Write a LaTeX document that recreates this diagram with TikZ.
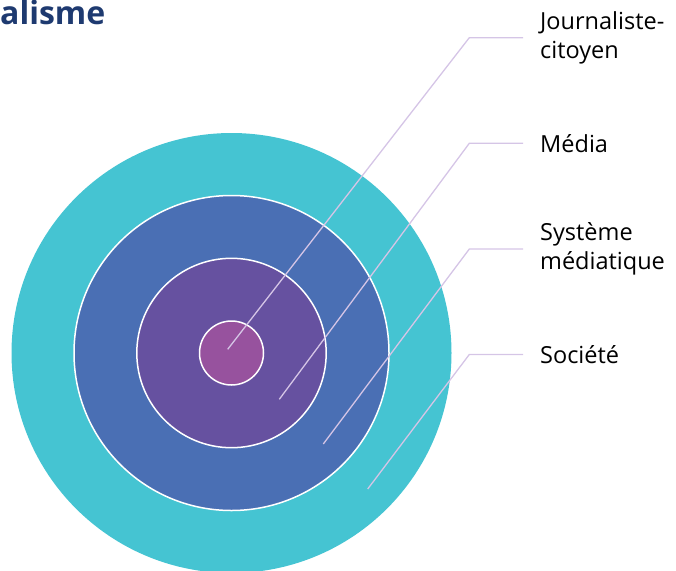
\documentclass[tikz,border=0pt]{standalone}
\usepackage{fontspec}
\setmainfont{Open Sans}
\definecolor{cteal}{HTML}{45C4D2}
\definecolor{cblue}{HTML}{4A6FB4}
\definecolor{cpurple}{HTML}{6651A0}
\definecolor{cmag}{HTML}{97529E}
\definecolor{ctitle}{HTML}{1E3A70}
\definecolor{cline}{HTML}{D5C5E6}
\tikzset{
  ring/.style={circle, draw=white, line width=1.5pt, inner sep=0pt},
  lbl/.style={anchor=west, align=left, inner xsep=17pt, inner ysep=0pt,
    font=\fontsize{23.5}{28.5}\selectfont, text=black},
  leader/.style={draw=cline, line width=1.3pt},
}
\begin{document}
\begin{tikzpicture}[x=1pt,y=-1pt]
\useasboundingbox (0,0) rectangle (676,570);
\clip (0,0) rectangle (676,570);
\coordinate (C) at (231.5,353);
\node[ring, fill=cteal, draw=none, minimum size=440pt] (soc) at (C) {};
\node[ring, fill=cblue, minimum size=315pt] (sys) at (C) {};
\node[ring, fill=cpurple, minimum size=189.4pt] (med) at (C) {};
\node[ring, fill=cmag, minimum size=64pt] (jc) at (C) {};
\node[anchor=base west, inner sep=0pt, font=\bfseries\fontsize{32}{32}\selectfont, text=ctitle] (title) at (0,24) {alisme};
\node[lbl] (l1) at (523,37.7) {Journaliste-\\citoyen};
\node[lbl] (l2) at (523,143.3) {Média};
\node[lbl] (l3) at (523,249) {Système\\médiatique};
\node[lbl] (l4) at (523,354.5) {Société};
\coordinate (s1) at (227.7,349.3);
\coordinate (s2) at (279.3,399.3);
\coordinate (s3) at (323.3,444);
\coordinate (s4) at (367.7,489);
\coordinate (k1) at (469.3,37.7);
\coordinate (k2) at (469.3,143.3);
\coordinate (k3) at (469.3,249);
\coordinate (k4) at (469.3,354.5);
\path[leader] (s1) -- (k1) -- (l1.west);
\path[leader] (s2) -- (k2) -- (l2.west);
\path[leader] (s3) -- (k3) -- (l3.west);
\path[leader] (s4) -- (k4) -- (l4.west);
\end{tikzpicture}
\end{document}
